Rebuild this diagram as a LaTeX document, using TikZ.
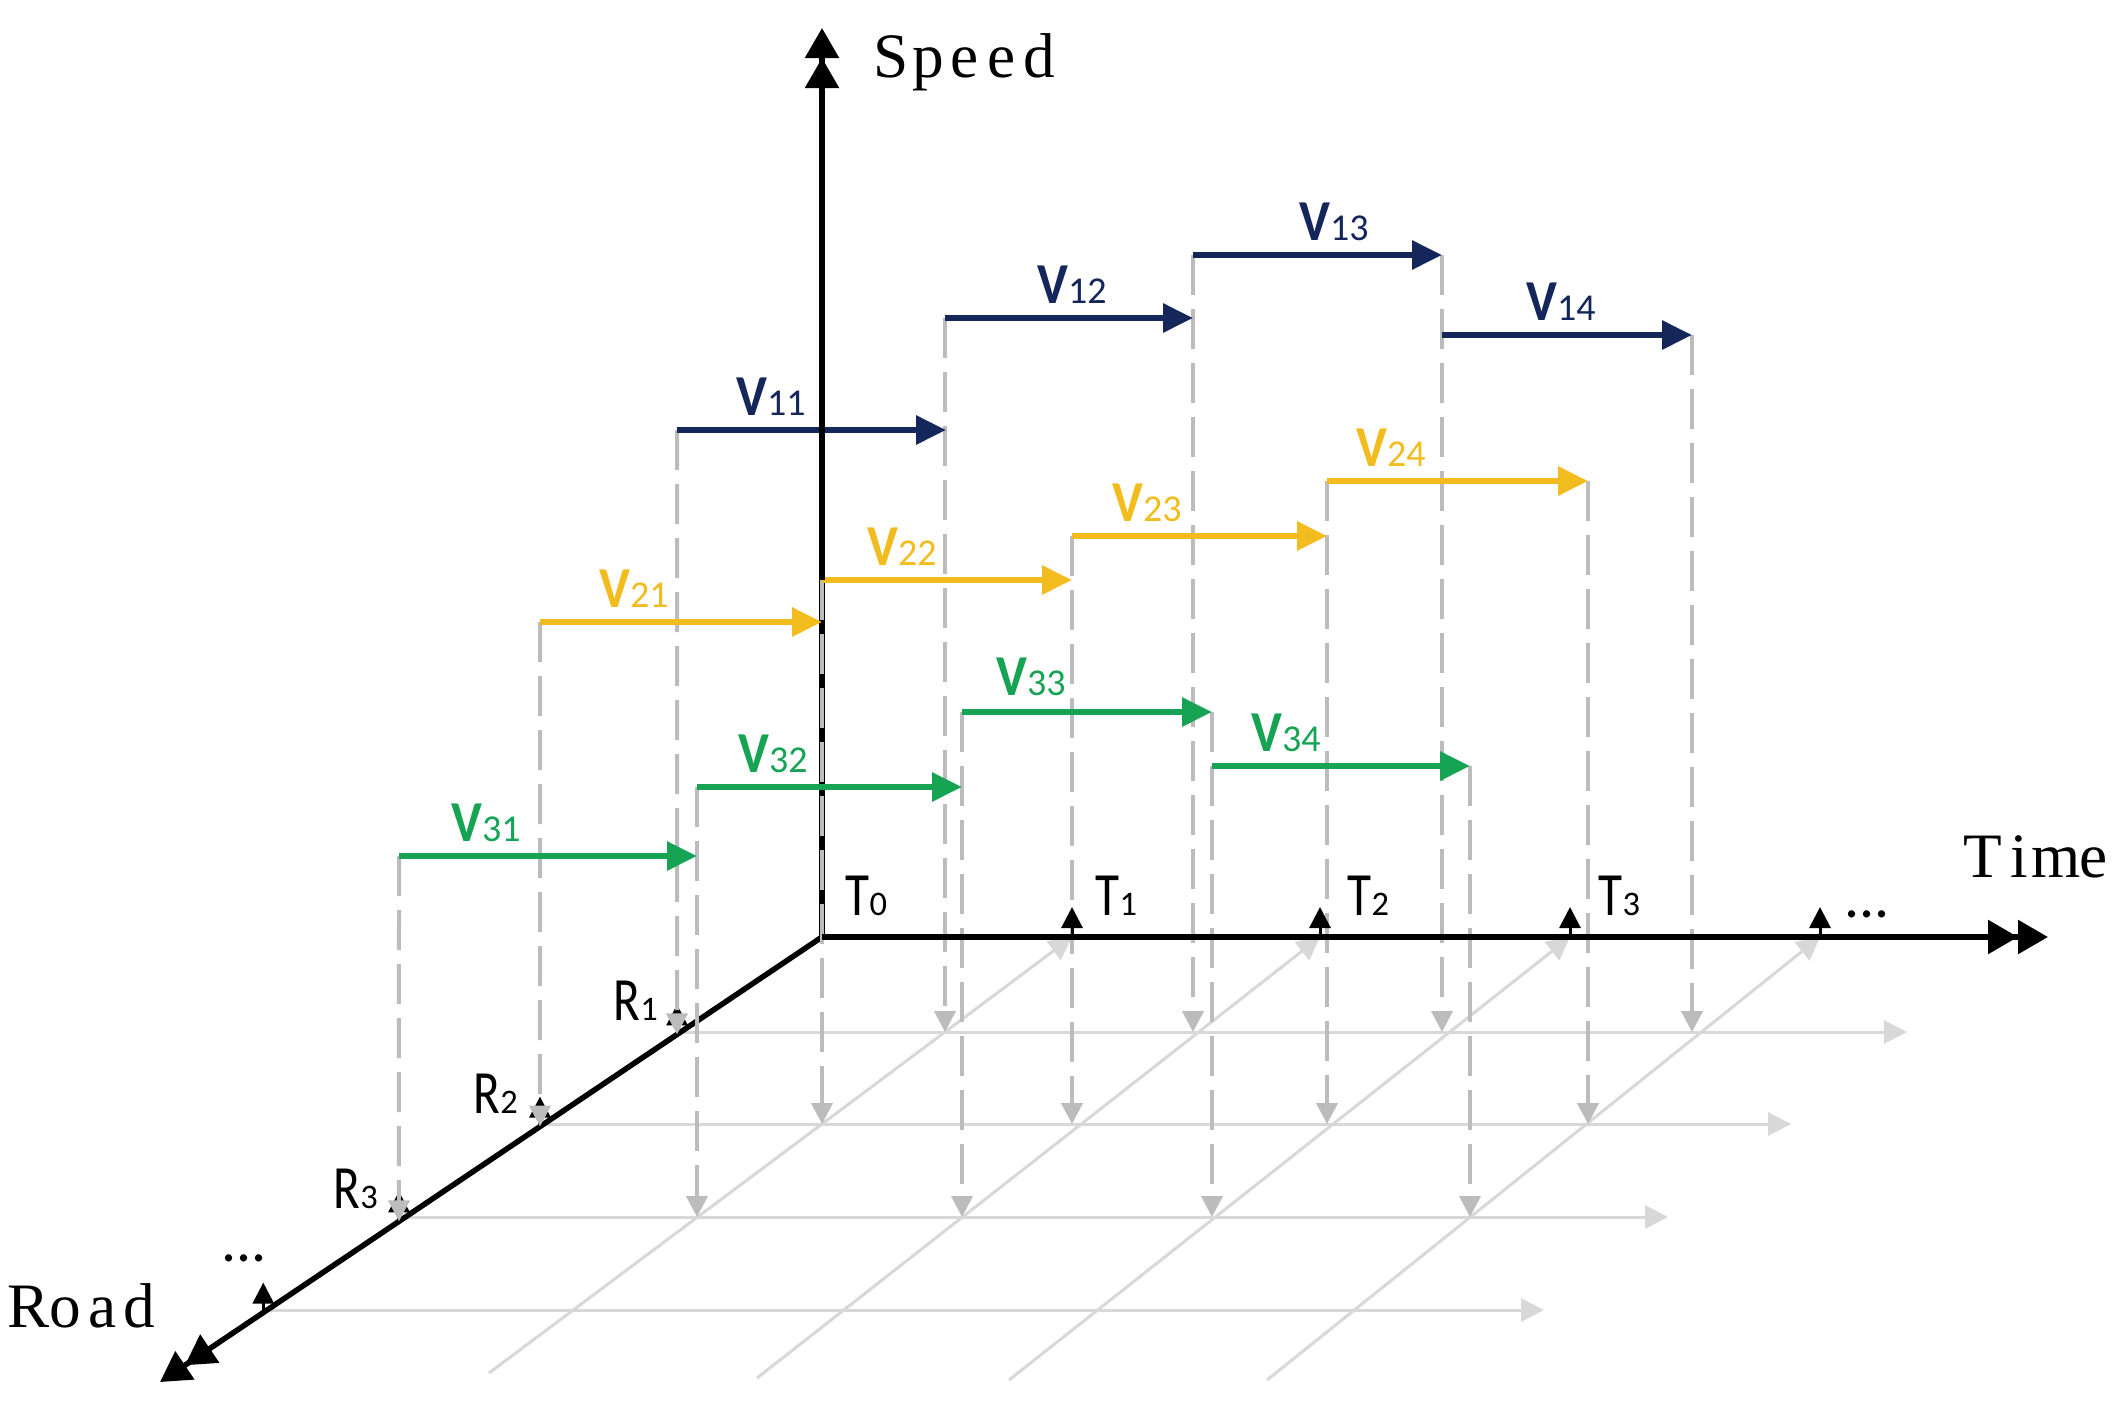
\documentclass[tikz,border=0pt]{standalone}
\usepackage{fontspec}
\setmainfont{Liberation Serif}
\newfontfamily\carl{Carlito}
\usetikzlibrary{arrows.meta,calc}
\definecolor{navy}{RGB}{20,38,90}
\definecolor{gold}{RGB}{243,188,30}
\definecolor{grn}{RGB}{22,163,84}
\definecolor{dropc}{RGB}{188,188,188}
\definecolor{gridc}{RGB}{216,216,216}
\def\mono#1{\monoA#1\relax}
\def\monoA#1{\ifx#1\relax\else\makebox[3.7mm]{#1}\expandafter\monoA\fi}
\newcommand\vlabel[1]{{\fontsize{16.5pt}{18pt}\selectfont\bfseries\scalebox{0.9}[1]{V}}{\fontsize{10.8pt}{12pt}\selectfont#1}}
\newcommand\tlabel[2]{{\fontsize{17.5pt}{20pt}\selectfont\scalebox{0.8}[1]{#1}}{\fontsize{9.8pt}{11pt}\selectfont#2}}
\tikzset{
  axisln/.style={line width=0.55mm},
  axisarr/.style={line width=0.55mm,-{Triangle[length=3mm,width=3.3mm]Triangle[length=3mm,width=3.3mm]}},
  gridln/.style={gridc,line width=0.3mm,-{Triangle[length=2.3mm,width=2.3mm]}},
  dropln/.style={dropc,line width=0.4mm,dash pattern=on 4mm off 1.4mm,-{Triangle[length=2.1mm,width=2.1mm]}},
  tickarr/.style={line width=0.3mm,-{Triangle[length=2.1mm,width=2.1mm]}},
  varrow/.style={line width=0.6mm,-{Triangle[length=3mm,width=2.8mm]}},
  vlab/.style={anchor=base,inner sep=0pt,font=\carl},
  tlab/.style={anchor=base west,inner sep=0pt,font=\carl},
  word/.style={anchor=base,inner sep=0pt,font=\fontsize{18pt}{20pt}\selectfont},
  dots/.style={anchor=base,inner sep=0pt,font=\carl\fontsize{17pt}{19pt}\selectfont},
}
\begin{document}
\begin{tikzpicture}[x=0.1mm,y=-0.1mm]
\fill[white] (0,0) rectangle (2128,1404);
\useasboundingbox (0,0) rectangle (2128,1404);
% axes points
\coordinate (O) at (822,937);
\coordinate (Stop) at (822,28);
\coordinate (Tend) at (2048,937);
\coordinate (Rend) at (160,1382);
\coordinate (T1) at (1072,937);
\coordinate (T2) at (1320,937);
\coordinate (T3) at (1570,937);
\coordinate (T4) at (1820,937);
\coordinate (R1) at ($(O)!0.219!(Rend)$);
\coordinate (R2) at ($(O)!0.426!(Rend)$);
\coordinate (R3) at ($(O)!0.639!(Rend)$);
\coordinate (R4) at ($(O)!0.844!(Rend)$);
% grid rows
\coordinate (G1s) at (681,1032); \coordinate (G1e) at (1907,1032);
\coordinate (G2s) at (544,1124); \coordinate (G2e) at (1791,1124);
\coordinate (G3s) at (405,1217); \coordinate (G3e) at (1668,1217);
\coordinate (G4s) at (267,1310); \coordinate (G4e) at (1544,1310);
\coordinate (D1s) at (489,1373);
\coordinate (D2s) at (757,1378);
\coordinate (D3s) at (1009,1380);
\coordinate (D4s) at (1267,1380);
\draw[gridln] (G1s) -- (G1e);
\draw[gridln] (G2s) -- (G2e);
\draw[gridln] (G3s) -- (G3e);
\draw[gridln] (G4s) -- (G4e);
\draw[gridln] (D1s) -- (T1);
\draw[gridln] (D2s) -- (T2);
\draw[gridln] (D3s) -- (T3);
\draw[gridln] (D4s) -- (T4);
% speed axis lower part
\coordinate (S22) at (822,580);
\draw[axisln] (O) -- (S22);
% road axis and its ticks
\draw[axisarr] (O) -- (Rend);
\foreach \r in {R1,R2,R3,R4}{\draw[tickarr] (\r) -- ++(0,-30);}
% speed arrows coordinates
\coordinate (a11) at (677,430);  \coordinate (b11) at (946,430);
\coordinate (a12) at (945,318);  \coordinate (b12) at (1193,318);
\coordinate (a13) at (1193,255); \coordinate (b13) at (1442,255);
\coordinate (a14) at (1442,335); \coordinate (b14) at (1692,335);
\coordinate (a21) at (540,622);  \coordinate (b21) at (822,622);
\coordinate (a22) at (822,580);  \coordinate (b22) at (1072,580);
\coordinate (a23) at (1072,536); \coordinate (b23) at (1327,536);
\coordinate (a24) at (1327,481); \coordinate (b24) at (1588,481);
\coordinate (a31) at (399,856);  \coordinate (b31) at (697,856);
\coordinate (a32) at (697,787);  \coordinate (b32) at (962,787);
\coordinate (a33) at (962,712);  \coordinate (b33) at (1212,712);
\coordinate (a34) at (1212,766); \coordinate (b34) at (1470,766);
% drop lines
\draw[dropln] (a11) -- (R1);
\draw[dropln] (a12) -- (a12 |- G1s);
\draw[dropln] (a13) -- (a13 |- G1s);
\draw[dropln] (b13) -- (b13 |- G1s);
\draw[dropln] (b14) -- (b14 |- G1s);
\draw[dropln] (a21) -- (R2);
\draw[dropln] (a22) -- (a22 |- G2s);
\draw[dropln] (a23) -- (a23 |- G2s);
\draw[dropln] (a24) -- (a24 |- G2s);
\draw[dropln] (b24) -- (b24 |- G2s);
\draw[dropln] (a31) -- (R3);
\draw[dropln] (a32) -- (a32 |- G3s);
\draw[dropln] (a33) -- (a33 |- G3s);
\draw[dropln] (b33) -- (b33 |- G3s);
\draw[dropln] (b34) -- (b34 |- G3s);
% time axis and ticks
\draw[axisarr] (O) -- (Tend);
\foreach \t in {T1,T2,T3,T4}{\draw[tickarr] (\t) -- ++(0,-30);}
% colored arrows
\draw[varrow,navy] (a11) -- (b11);
\draw[varrow,navy] (a12) -- (b12);
\draw[varrow,navy] (a13) -- (b13);
\draw[varrow,navy] (a14) -- (b14);
\draw[varrow,gold] (a21) -- (b21);
\draw[varrow,gold] (a22) -- (b22);
\draw[varrow,gold] (a23) -- (b23);
\draw[varrow,gold] (a24) -- (b24);
\draw[varrow,grn] (a31) -- (b31);
\draw[varrow,grn] (a32) -- (b32);
\draw[varrow,grn] (a33) -- (b33);
\draw[varrow,grn] (a34) -- (b34);
% speed axis upper part
\draw[axisarr] (S22) -- (Stop);
% labels
\node[vlab,navy] (l11) at (771,415) {\vlabel{11}};
\node[vlab,navy] (l12) at (1072,303) {\vlabel{12}};
\node[vlab,navy] (l13) at (1334,240) {\vlabel{13}};
\node[vlab,navy] (l14) at (1561,320) {\vlabel{14}};
\node[vlab,gold] (l21) at (634,607) {\vlabel{21}};
\node[vlab,gold] (l22) at (902,565) {\vlabel{22}};
\node[vlab,gold] (l23) at (1147,521) {\vlabel{23}};
\node[vlab,gold] (l24) at (1391,466) {\vlabel{24}};
\node[vlab,grn] (l31) at (486,841) {\vlabel{31}};
\node[vlab,grn] (l32) at (773,772) {\vlabel{32}};
\node[vlab,grn] (l33) at (1031,695) {\vlabel{33}};
\node[vlab,grn] (l34) at (1286,751) {\vlabel{34}};
\node[tlab] (t0) at (845,915) {\tlabel{T}{0}};
\node[tlab] (t1) at (1095,915) {\tlabel{T}{1}};
\node[tlab] (t2) at (1347,915) {\tlabel{T}{2}};
\node[tlab] (t3) at (1598,915) {\tlabel{T}{3}};
\node[tlab] (r1) at (613,1020) {\tlabel{R}{1}};
\node[tlab] (r2) at (473,1113) {\tlabel{R}{2}};
\node[tlab] (r3) at (333,1208) {\tlabel{R}{3}};
\node[dots] (tdots) at (1867,917) {...};
\node[dots] (rdots) at (244,1261) {...};
\node[word] (speed) at (965,77) {\mono{Speed}};
\node[word] (time) at (2038,877) {\mono{Time}};
\node[word] (road) at (84,1327) {\mono{Road}};
\end{tikzpicture}
\end{document}
